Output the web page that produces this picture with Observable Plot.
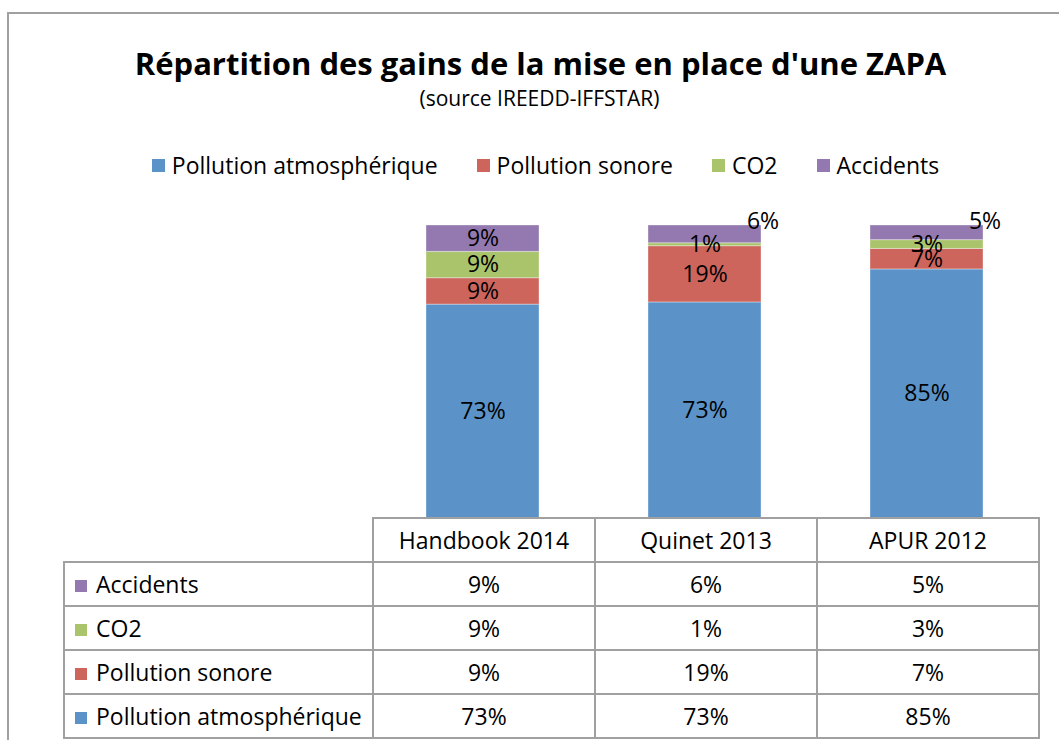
<!DOCTYPE html>
<html>
<head>
<meta charset="utf-8">
<script src="https://cdn.jsdelivr.net/npm/d3@7"></script>
<script src="https://cdn.jsdelivr.net/npm/@observablehq/plot@0.6"></script>
<style>
  html, body { margin: 0; padding: 0; background: #fff; }
  body { font-family: "Open Sans", sans-serif; color: #000; overflow: hidden; }
  #root { position: relative; width: 1059px; height: 740px; overflow: hidden; background: #fff; }
  #frame { position: absolute; left: 7px; top: 12px; width: 1200px; height: 900px;
           border: 2px solid #a0a0a0; box-sizing: border-box; }
  #title { position: absolute; left: 0; width: 1081px; top: 48px; text-align: center;
           font-weight: bold; font-size: 31px; line-height: 31px; white-space: nowrap; }
  #subtitle { position: absolute; left: 0; width: 1079px; top: 88px; text-align: center;
              font-size: 21px; line-height: 21px; white-space: nowrap; }
  #legend { position: absolute; left: 0; width: 1091px; top: 153px; height: 24px;
            display: flex; justify-content: center; gap: 39px; font-size: 23px; line-height: 24px; }
  .item { display: flex; align-items: center; gap: 7px; white-space: nowrap; }
  .sw { display: inline-block; width: 13px; height: 13px; }
  #chart { position: absolute; left: 0; top: 200px; }
  #tbl { position: absolute; left: 63px; top: 517px; border-collapse: collapse; table-layout: fixed;
         width: 977px; height: 220px; font-size: 23px; }
  #tbl td { border: 2px solid #a0a0a0; padding: 0; height: 42px; text-align: center;
            vertical-align: middle; white-space: nowrap; line-height: 24px; }
  #tbl td.corner { border-top: hidden; border-left: hidden; }
  #tbl td.lab { text-align: left; padding-left: 10px; }
  #tbl td.lab .sw { width: 12px; height: 12px; margin-right: 9px; vertical-align: 1px; }
</style>
</head>
<body>
<div id="root">
  <div id="frame"></div>
  <div id="title">Répartition des gains de la mise en place d'une ZAPA</div>
  <div id="subtitle">(source IREEDD-IFFSTAR)</div>
  <div id="legend"></div>
  <div id="chart"></div>
  <table id="tbl"></table>
</div>
<script>
// ---- Data ----
const categories = ["Handbook 2014", "Quinet 2013", "APUR 2012"];
const series = ["Pollution atmosphérique", "Pollution sonore", "CO2", "Accidents"];
const colors = ["#5B93C9", "#CD655D", "#AAC46B", "#9379AF"];
const pollutionAtmospherique = [73, 73, 85];
const pollutionSonore = [9, 19, 7];
const co2 = [9, 1, 3];
const accidents = [9, 6, 5];

const seriesValues = [pollutionAtmospherique, pollutionSonore, co2, accidents];
const data = [];
series.forEach((s, si) => categories.forEach((c, ci) =>
  data.push({category: c, series: s, value: seriesValues[si][ci]})));

const topSeries = series[series.length - 1];
const outside = d => d.series === topSeries && d.value < 8;
const fmt = v => v + "%";

// ---- Legend ----
const legend = document.getElementById("legend");
series.forEach((s, i) => {
  const it = document.createElement("div");
  it.className = "item";
  const sw = document.createElement("span");
  sw.className = "sw";
  sw.style.background = colors[i];
  const t = document.createElement("span");
  t.textContent = s;
  it.appendChild(sw); it.appendChild(t);
  legend.appendChild(it);
});

// ---- Chart ----
const chart = Plot.plot({
  width: 1059,
  height: 318,
  marginLeft: 372,
  marginRight: 21,
  marginTop: 25,
  marginBottom: 0,
  x: {domain: categories, paddingInner: 0.49, paddingOuter: 0.245, axis: null},
  y: {domain: [0, 1], axis: null},
  color: {domain: series, range: colors},
  style: {fontFamily: "'Open Sans', sans-serif", background: "transparent", overflow: "visible"},
  marks: [
    Plot.barY(data, Plot.stackY({
      offset: "normalize", x: "category", y: "value", fill: "series",
      stroke: "#ffffff", strokeOpacity: 0.35, strokeWidth: 1
    })),
    Plot.text(data, Plot.stackY({
      offset: "normalize", x: "category", y: "value", z: "series",
      text: d => outside(d) ? null : fmt(d.value),
      fill: "#000", fontSize: 23
    })),
    Plot.text(data, Plot.stackY2({
      offset: "normalize", x: "category", y: "value", z: "series",
      text: d => outside(d) ? fmt(d.value) : null,
      fill: "#000", fontSize: 23, dx: 58, dy: -4
    }))
  ]
});
document.getElementById("chart").appendChild(chart);

// ---- Data table ----
const tbl = document.getElementById("tbl");
const cg = document.createElement("colgroup");
[309, 222, 222, 222].forEach(w => {
  const col = document.createElement("col");
  col.style.width = w + "px";
  cg.appendChild(col);
});
tbl.appendChild(cg);
const head = document.createElement("tr");
const corner = document.createElement("td");
corner.className = "corner";
head.appendChild(corner);
categories.forEach(c => {
  const td = document.createElement("td");
  td.textContent = c;
  head.appendChild(td);
});
tbl.appendChild(head);
for (let si = series.length - 1; si >= 0; si--) {
  const tr = document.createElement("tr");
  const lab = document.createElement("td");
  lab.className = "lab";
  const sw = document.createElement("span");
  sw.className = "sw";
  sw.style.background = colors[si];
  lab.appendChild(sw);
  lab.appendChild(document.createTextNode(series[si]));
  tr.appendChild(lab);
  seriesValues[si].forEach(v => {
    const td = document.createElement("td");
    td.textContent = fmt(v);
    tr.appendChild(td);
  });
  tbl.appendChild(tr);
}
</script>
</body>
</html>
